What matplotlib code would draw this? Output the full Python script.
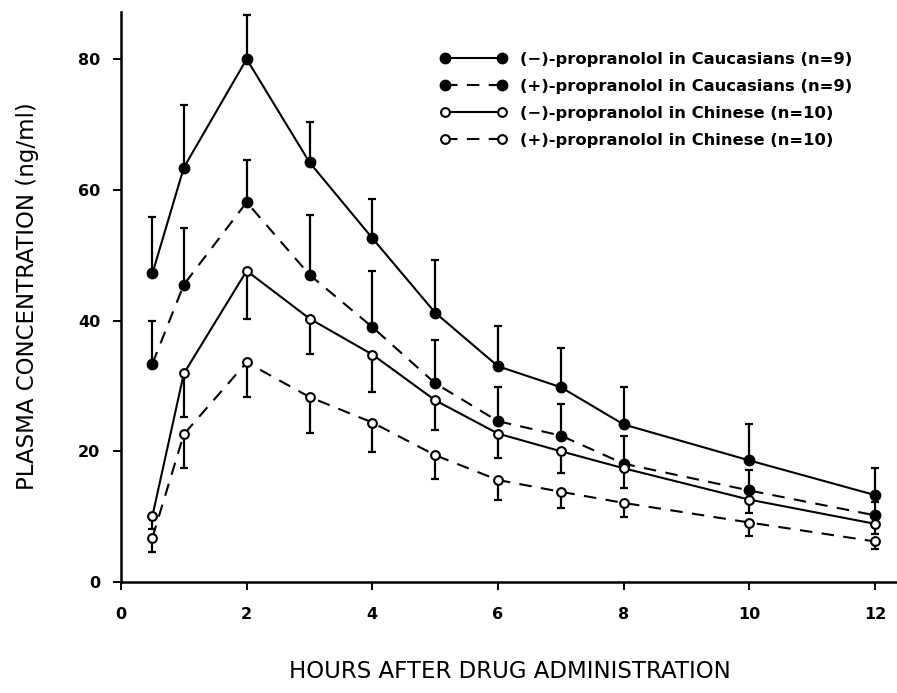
import numpy as np
from matplotlib import pyplot as plt
from matplotlib.lines import Line2D

hours = [0.5, 1, 2, 3, 4, 5, 6, 7, 8, 10, 12]

# (-)-propranolol, Caucasians: mean and upper error
minus_cauc = [47.2, 63.4, 80.0, 64.2, 52.6, 41.2, 33.0, 29.8, 24.1, 18.6, 13.3]
minus_cauc_err = [8.7, 9.6, 6.7, 6.2, 6.0, 8.0, 6.1, 6.0, 5.7, 5.5, 4.1]

# (+)-propranolol, Caucasians: mean and upper error
plus_cauc = [33.4, 45.5, 58.1, 47.0, 39.0, 30.4, 24.6, 22.4, 18.1, 14.0, 10.2]
plus_cauc_err = [6.6, 8.7, 6.5, 9.1, 8.6, 6.6, 5.2, 4.8, 4.2, 3.2, 2.0]

# (-)-propranolol, Chinese: mean and lower error
minus_chin = [10.1, 31.9, 47.6, 40.3, 34.8, 27.8, 22.7, 20.0, 17.4, 12.6, 8.9]
minus_chin_err = [2.0, 6.7, 7.3, 5.4, 5.7, 4.6, 3.8, 3.4, 3.0, 2.1, 1.5]

# (+)-propranolol, Chinese: mean and lower error
plus_chin = [6.8, 22.6, 33.6, 28.3, 24.4, 19.4, 15.6, 13.8, 12.1, 9.1, 6.2]
plus_chin_err = [2.2, 5.2, 5.3, 5.5, 4.5, 3.7, 3.0, 2.5, 2.1, 2.1, 1.1]

labels = [
    "(\u2212)-propranolol in Caucasians (n=9)",
    "(+)-propranolol in Caucasians (n=9)",
    "(\u2212)-propranolol in Chinese (n=10)",
    "(+)-propranolol in Chinese (n=10)",
]

fig = plt.figure(figsize=(8.97, 6.93), dpi=100)
ax = fig.add_axes([121 / 897, 111 / 693, 776 / 897, 570 / 693])

dash = (0, (6, 4.5))
series = [
    (minus_cauc, minus_cauc_err, "up", "-", "black"),
    (plus_cauc, plus_cauc_err, "up", dash, "black"),
    (minus_chin, minus_chin_err, "down", "-", "white"),
    (plus_chin, plus_chin_err, "down", dash, "white"),
]

handles = []
for (vals, err, side, ls, face), lab in zip(series, labels):
    zeros = np.zeros(len(err))
    yerr = [zeros, err] if side == "up" else [err, zeros]
    ms = 7 if face == "black" else 6.3
    ax.errorbar(hours, vals, yerr=yerr, fmt="none", ecolor="black",
                elinewidth=1.6, capsize=3, capthick=1.6, zorder=2)
    ax.plot(hours, vals, color="black", linestyle=ls, linewidth=1.5, zorder=3)
    ax.plot(hours, vals, linestyle="none", marker="o", markersize=ms,
            markerfacecolor=face, markeredgecolor="black", markeredgewidth=1.5, zorder=4)
    handles.append(Line2D([], [], color="black", linestyle=ls, linewidth=1.5, marker="o",
                          markersize=ms, markerfacecolor=face,
                          markeredgecolor="black", markeredgewidth=1.5, label=lab))

ax.set_xlim(0, 12.35)
ax.set_ylim(0, 87.2)
ax.set_xticks([0, 2, 4, 6, 8, 10, 12])
ax.set_yticks([0, 20, 40, 60, 80])
ax.spines["top"].set_visible(False)
ax.spines["right"].set_visible(False)
ax.spines["left"].set_linewidth(1.8)
ax.spines["bottom"].set_linewidth(1.8)
ax.tick_params(direction="out", length=6, width=1.4, labelsize=11.5)
ax.tick_params(axis="x", pad=12)
ax.tick_params(axis="y", pad=9)
for t in ax.get_xticklabels() + ax.get_yticklabels():
    t.set_fontweight("bold")

fig.text(0.5 * (277 + 743) / 897, 1 - 672 / 693, "HOURS AFTER DRUG ADMINISTRATION",
         ha="center", va="center", fontsize=16.5)
fig.text(28 / 897, 1 - 296 / 693, "PLASMA CONCENTRATION (ng/ml)",
         ha="center", va="center", rotation=90, fontsize=16.5)

ax.legend(handles=handles, loc="upper left", bbox_to_anchor=(432 / 897, 1 - 44 / 693),
          bbox_transform=fig.transFigure, frameon=False, numpoints=2, handlelength=4.1,
          handletextpad=0.75, labelspacing=0.72, borderpad=0,
          prop={"size": 11.8, "weight": "bold"})

fig.savefig("out.png", dpi=100)
